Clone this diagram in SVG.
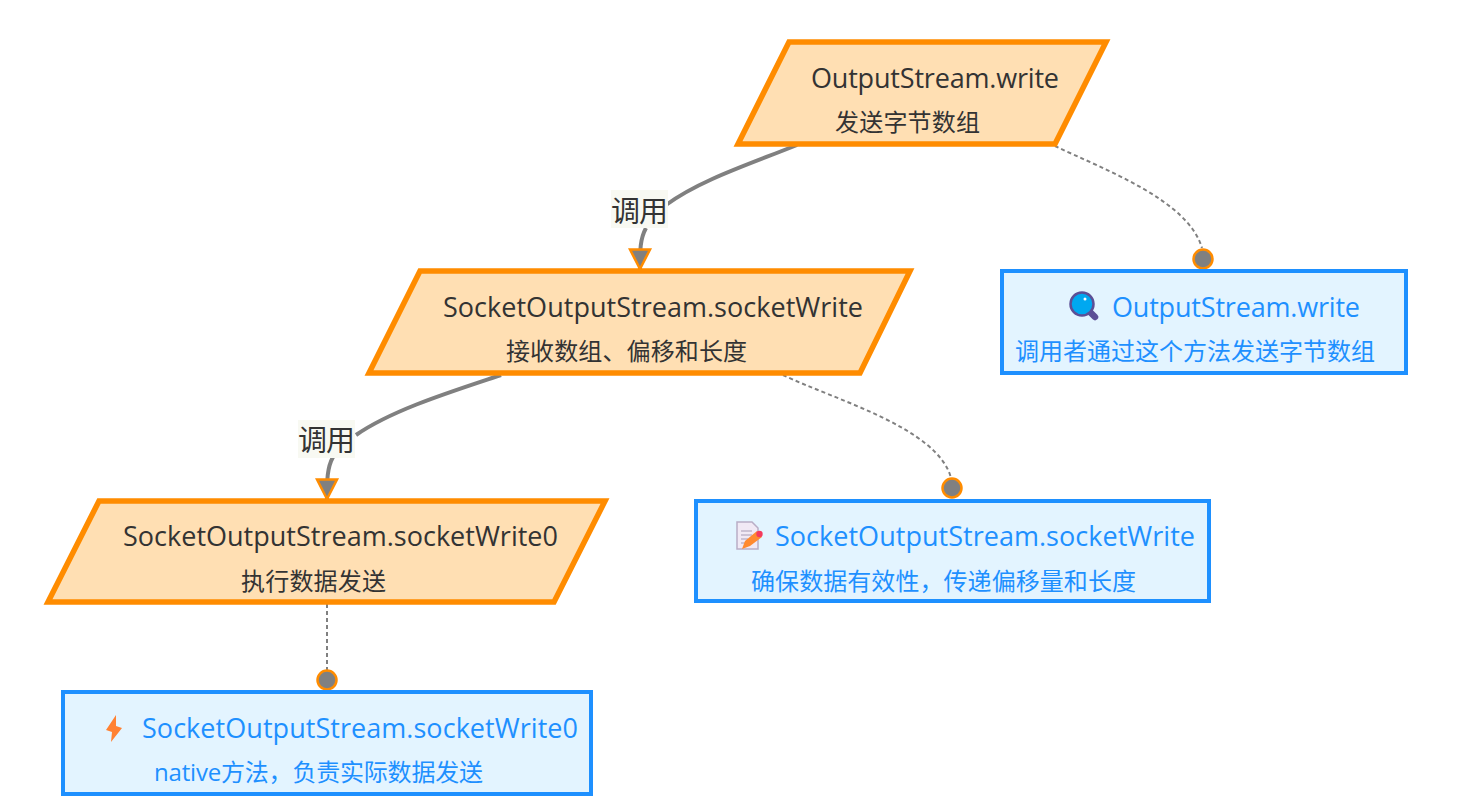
<svg xmlns="http://www.w3.org/2000/svg" width="1478" height="812" viewBox="0 0 1478 812">
<style>
text{font-family:"Open Sans","Noto Sans CJK SC","Noto Sans",sans-serif}
.p{fill:#ffdfb3;stroke:#ff8c00;stroke-width:5.500}
.b{fill:#e3f4ff;stroke:#1e90ff;stroke-width:4}
.t1{font-size:27px;fill:#333}
.t2{font-size:24px;fill:#333}
.b1{font-size:27px;fill:#1e90ff}
.b2{font-size:24px;fill:#1e90ff}
.e{fill:none;stroke:#808080;stroke-width:4}
.d{fill:none;stroke:#808080;stroke-width:2;stroke-dasharray:4 3}
.l{font-size:29px;fill:#333}
.c{fill:#808080;stroke:#ff8c00;stroke-width:2.500}
</style>
<defs>
<marker id="arrow" markerUnits="userSpaceOnUse" markerWidth="26" markerHeight="24" refX="12" refY="21" orient="0"><path d="M2 1.500H22L12 21Z" fill="#808080" stroke="#ff8c00" stroke-width="2.500"/></marker>
</defs>
<g id="connectors">
<path class="e" d="M797 145C750 164 700 180 666 205"/>
<path class="e" d="M646 228C640 239 640 250 640 269" marker-end="url(#arrow)"/>
<path class="e" d="M501 375C450 392 392 410 356 435"/>
<path class="e" d="M333 457C327 468 327 480 327 499" marker-end="url(#arrow)"/>
<path class="d" d="M1055 146C1105 170 1188 200 1202 248"/>
<path class="d" d="M783 375C835 400 938 428 951 478"/>
<path class="d" d="M327 604V670"/>
<circle class="c" cx="1203" cy="259" r="9.500"/>
<circle class="c" cx="952" cy="488" r="9.500"/>
<circle class="c" cx="327" cy="680" r="9.500"/>
<g id="edge-label-1"><rect x="611" y="190" width="57" height="38" fill="#f8f9f2"/><text class="l" x="611" y="222" textLength="57">调用</text></g>
<g id="edge-label-2"><rect x="298" y="420" width="57" height="38" fill="#f8f9f2"/><text class="l" x="298" y="451" textLength="57">调用</text></g>
</g>
<g id="node-write">
<polygon class="p" points="789,42 1106,42 1055,144 738,144"/>
<text class="t1" x="811" y="88" textLength="248">OutputStream.write</text>
<text class="t2" x="835" y="131" textLength="145">发送字节数组</text>
</g>
<g id="node-socketWrite">
<polygon class="p" points="420,271 910,271 860,373 369,373"/>
<text class="t1" x="443" y="317" textLength="420">SocketOutputStream.socketWrite</text>
<text class="t2" x="506" y="360" textLength="241">接收数组、偏移和长度</text>
</g>
<g id="node-socketWrite0">
<polygon class="p" points="99,501 605,501 554,602 48,602"/>
<text class="t1" x="123" y="546" textLength="435">SocketOutputStream.socketWrite0</text>
<text class="t2" x="241" y="590" textLength="145">执行数据发送</text>
</g>
<g id="note-write">
<rect class="b" x="1002" y="271" width="404" height="102"/>
<g>
<path d="M1088 310L1095 317" stroke="#5c4f96" stroke-width="6.500" stroke-linecap="round"/>
<circle cx="1082" cy="304" r="11.500" fill="#00a8f0" stroke="#5c4f96" stroke-width="2.500"/>
<circle cx="1085" cy="299" r="1.500" fill="#fff"/>
</g>
<text class="b1" x="1112" y="317" textLength="248">OutputStream.write</text>
<text class="b2" x="1015" y="360" textLength="360">调用者通过这个方法发送字节数组</text>
</g>
<g id="note-socketWrite">
<rect class="b" x="696" y="501" width="513" height="100"/>
<g>
<path d="M737 522H752L758 528V549H737Z" fill="#f1e9f5" stroke="#b9adc6" stroke-width="1.500"/>
<path d="M741 531H752M741 535H752M741 539H748M741 543H745" stroke="#a79bb5" stroke-width="1.200"/>
<path d="M742 549L745 541L757 531L762 537L750 546Z" fill="#ff8a30"/>
<circle cx="759.500" cy="534" r="3.200" fill="#f43a5e"/>
</g>
<text class="b1" x="775" y="546" textLength="420">SocketOutputStream.socketWrite</text>
<text class="b2" x="751" y="590" textLength="385">确保数据有效性，传递偏移量和长度</text>
</g>
<g id="note-socketWrite0">
<rect class="b" x="63" y="692" width="528" height="102"/>
<path d="M116 715L106 730L112 732L111 742L122 728L116 726Z" fill="#ff8132"/>
<text class="b1" x="142" y="738" textLength="436">SocketOutputStream.socketWrite0</text>
<text class="b2" x="154" y="781" textLength="329">native方法，负责实际数据发送</text>
</g>
</svg>
